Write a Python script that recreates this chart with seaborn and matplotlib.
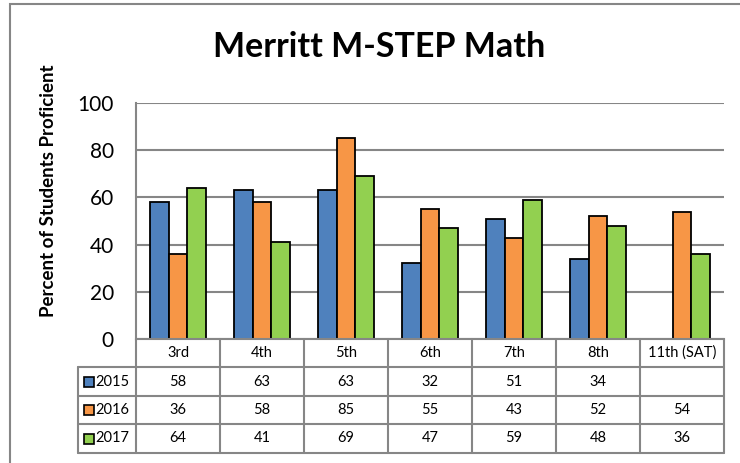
import numpy as np
import pandas as pd
import matplotlib
matplotlib.use("Agg")
import matplotlib.pyplot as plt
import seaborn as sns
from matplotlib.patches import Rectangle
from matplotlib.transforms import blended_transform_factory

# ---- data ----
grades = ["3rd", "4th", "5th", "6th", "7th", "8th", "11th (SAT)"]
years = ["2015", "2016", "2017"]
vals_2015 = [58, 63, 63, 32, 51, 34, np.nan]
vals_2016 = [36, 58, 85, 55, 43, 52, 54]
vals_2017 = [64, 41, 69, 47, 59, 48, 36]
colors = ["#4F81BD", "#F79646", "#92D050"]
title = "Merritt M-STEP Math"
ylabel = "Percent of Students Proficient"

series = {"2015": vals_2015, "2016": vals_2016, "2017": vals_2017}
df = pd.DataFrame([
    {"grade": g, "year": y, "value": series[y][i]}
    for y in years for i, g in enumerate(grades)
])

sns.set_theme(style="white")
plt.rcParams["font.family"] = ["Lato", "DejaVu Sans"]

W, H = 740, 463
fig = plt.figure(figsize=(W / 100, H / 100), dpi=100)
ax_l, ax_r, ax_t, ax_b = 136, 724, 103, 339
ax = fig.add_axes([ax_l / W, (H - ax_b) / H, (ax_r - ax_l) / W, (ax_b - ax_t) / H])

grid_c = "#868686"
sns.barplot(data=df, x="grade", y="value", hue="year", order=grades,
            hue_order=years, palette=colors, saturation=1, edgecolor="black",
            linewidth=1.3, width=0.67, errorbar=None, legend=False, ax=ax)

ax.set_ylim(0, 100)
ax.set_yticks(range(0, 101, 20))
ax.set_xlim(-0.5, len(grades) - 0.5)
ax.set_xticks([])
ax.set_xlabel("")
ax.set_ylabel("")
ax.yaxis.grid(True, color=grid_c, linewidth=1.5)
ax.set_axisbelow(True)
for s in ["top", "right"]:
    ax.spines[s].set_visible(False)
for s in ["left", "bottom"]:
    ax.spines[s].set_color(grid_c)
    ax.spines[s].set_linewidth(1.5)
ax.tick_params(axis="y", length=0, pad=16, labelsize=15, labelcolor="black")

# ---- data table ----
plot_h = ax_b - ax_t
cat_w = (ax_r - ax_l) / len(grades)
trans = blended_transform_factory(ax.transData, ax.transAxes)
row_px = [0, 28, 57, 85, 114]
rows = [-p / plot_h for p in row_px]
x_leg = -0.5 - (ax_l - 78) / cat_w
line_kw = dict(color=grid_c, lw=1.5, transform=trans, clip_on=False)

for i in range(len(grades) + 1):
    ax.plot([-0.5 + i, -0.5 + i], [rows[0], rows[-1]], **line_kw)
ax.plot([x_leg, x_leg], [rows[1], rows[-1]], **line_kw)
for r in rows[1:]:
    ax.plot([x_leg, len(grades) - 0.5], [r, r], **line_kw)

fs_tab = 10.5
for i, g in enumerate(grades):
    ax.text(i, (rows[0] + rows[1]) / 2, g, transform=trans, ha="center",
            va="center", fontsize=fs_tab, color="black")
for k, y in enumerate(years):
    ymid = (rows[k + 1] + rows[k + 2]) / 2
    for i, v in enumerate(series[y]):
        if not np.isnan(v):
            ax.text(i, ymid, f"{int(v)}", transform=trans, ha="center",
                    va="center", fontsize=fs_tab, color="black")
    sw_x = -0.5 + (89 - ax_l) / cat_w
    ax.plot([sw_x], [ymid], marker="s", markersize=7, markerfacecolor=colors[k],
            markeredgecolor="black", markeredgewidth=1.2, transform=trans,
            clip_on=False, linestyle="none")
    ax.text(-0.5 + (95 - ax_l) / cat_w, ymid, y, transform=trans, ha="left",
            va="center", fontsize=fs_tab, color="black")

# ---- titles ----
fig.text(379 / W, 1 - 47 / H, title, ha="center", va="center",
         fontsize=24.5, fontweight="bold", color="black")
fig.text(49 / W, 1 - 191 / H, ylabel, ha="center", va="center",
         rotation=90, fontsize=13.5, fontweight="bold", color="black")

# ---- outer frame ----
fig.add_artist(Rectangle((10 / W, -0.5), 2, 0.5 + 1 - 4 / H,
                         transform=fig.transFigure, fill=False,
                         edgecolor=grid_c, linewidth=1.5, clip_on=False))

fig.savefig("out.png", dpi=100)
